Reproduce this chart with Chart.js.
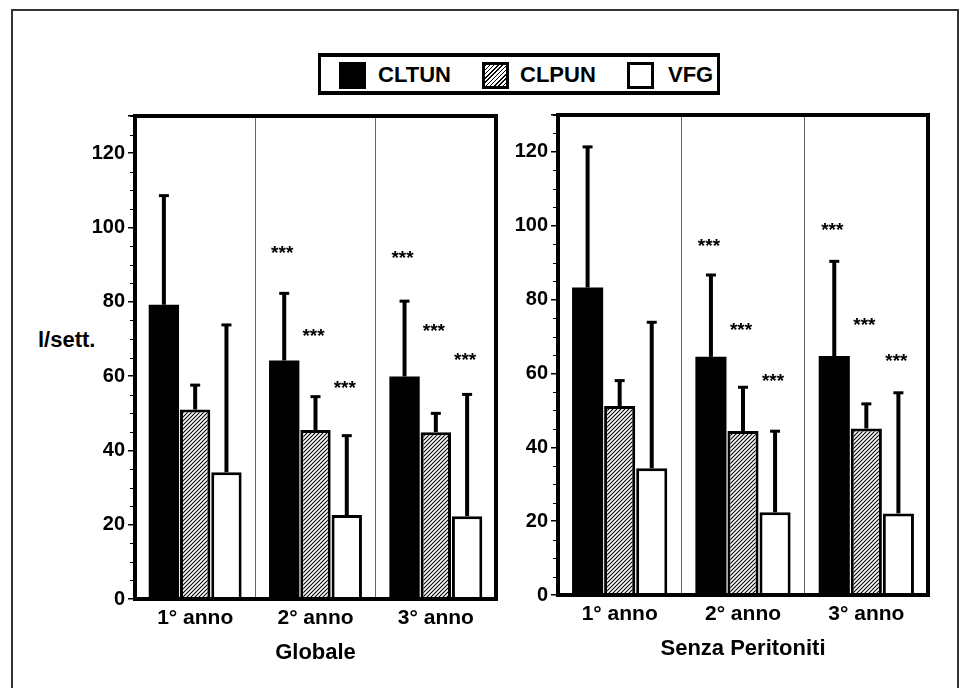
<!DOCTYPE html>
<html>
<head>
<meta charset="utf-8">
<script src="https://cdn.jsdelivr.net/npm/chart.js@4.4.1/dist/chart.umd.min.js"></script>
<style>
  body { margin: 0; width: 959px; height: 688px; position: relative; overflow: hidden; background: #fff;
         font-family: "Liberation Sans", Arial, sans-serif; font-weight: bold; color: #000; }
  #frame { position: absolute; left: 11px; top: 9px; width: 944px; height: 700px; border: 2px solid #333; }
  #legend { position: absolute; left: 318px; top: 53px; width: 396px; height: 34px; border: 3px solid #000; border-width: 4px 3px; }
  .sw { position: absolute; top: 5px; width: 27px; height: 27px; box-sizing: border-box; border: 3px solid #000; }
  .lt { position: absolute; top: 5px; font-size: 22px; line-height: 26px; }
  .box { position: absolute; }
  #ylab { position: absolute; left: 38px; top: 327px; font-size: 22px; line-height: 26px; }
</style>
</head>
<body>
<div id="frame"></div>
<div id="legend">
  <div class="sw" style="left:18px;background:#000"></div><div class="lt" style="left:57px">CLTUN</div>
  <div class="sw" style="left:161px;background:repeating-linear-gradient(135deg,#000 0 1px,#fff 1px 3px)"></div><div class="lt" style="left:199px">CLPUN</div>
  <div class="sw" style="left:306px;background:#fff"></div><div class="lt" style="left:347px">VFG</div>
</div>
<div id="ylab">l/sett.</div>
<div class="box" style="left:0;top:100px"><canvas id="c1" width="510" height="588"></canvas></div>
<div class="box" style="left:510px;top:100px"><canvas id="c2" width="449" height="588"></canvas></div>

<script>
// dati (l/settimana)
const categories = ["1° anno", "2° anno", "3° anno"];
const seriesNames = ["CLTUN", "CLPUN", "VFG"];

// Globale
const globCLTUN = [79.2, 64.2, 59.9];
const globCLTUNtop = [108.7, 82.4, 80.3];
const globCLPUN = [51.0, 45.5, 44.9];
const globCLPUNtop = [57.7, 54.6, 50.1];
const globVFG = [34.1, 22.6, 22.3];
const globVFGtop = [73.9, 44.1, 55.2];
const globStarsCLTUN = [null, 93.3, 92.0];
const globStarsCLPUN = [null, 71.0, 72.2];
const globStarsVFG = [null, 56.8, 64.5];

// Senza Peritoniti
const spCLTUN = [83.3, 64.5, 64.7];
const spCLTUNtop = [121.5, 86.8, 90.5];
const spCLPUN = [51.2, 44.4, 45.1];
const spCLPUNtop = [58.2, 56.4, 51.9];
const spVFG = [34.3, 22.4, 22.1];
const spVFGtop = [74.0, 44.5, 54.9];
const spStarsCLTUN = [null, 94.6, 99.0];
const spStarsCLPUN = [null, 71.9, 73.3];
const spStarsVFG = [null, 58.2, 63.6];

const yMax = 130;
const yMajorStep = 20;
const yMinorStep = 5;

const FONT = "'Liberation Sans', Arial, sans-serif";

function hatchPattern() {
  const c = document.createElement("canvas");
  const s = 4;
  c.width = s; c.height = s;
  const g = c.getContext("2d");
  g.fillStyle = "#fff";
  g.fillRect(0, 0, s, s);
  g.strokeStyle = "#000";
  g.lineWidth = 1.1;
  g.beginPath();
  g.moveTo(0, s); g.lineTo(s, 0);
  g.moveTo(-1, 1); g.lineTo(1, -1);
  g.moveTo(s - 1, s + 1); g.lineTo(s + 1, s - 1);
  g.stroke();
  return g.createPattern(c, "repeat");
}

// barre d'errore + asterischi
const extras = {
  id: "extras",
  afterDatasetsDraw(chart) {
    const ctx = chart.ctx;
    const y = chart.scales.y;
    chart.data.datasets.forEach((ds, i) => {
      const meta = chart.getDatasetMeta(i);
      meta.data.forEach((bar, j) => {
        const top = ds.errTop[j];
        const yt = y.getPixelForValue(top);
        ctx.save();
        ctx.strokeStyle = "#000";
        ctx.lineWidth = 4;
        ctx.beginPath();
        ctx.moveTo(bar.x, bar.y);
        ctx.lineTo(bar.x, yt);
        ctx.stroke();
        ctx.lineWidth = 3;
        ctx.beginPath();
        ctx.moveTo(bar.x - 5, yt + 0.5);
        ctx.lineTo(bar.x + 5, yt + 0.5);
        ctx.stroke();
        const st = ds.stars[j];
        if (st != null) {
          ctx.font = "bold 19px " + FONT;
          ctx.fillStyle = "#000";
          ctx.textAlign = "center";
          ctx.textBaseline = "alphabetic";
          const m = ctx.measureText("***");
          const h = m.actualBoundingBoxAscent - m.actualBoundingBoxDescent;
          ctx.fillText("***", bar.x - 2, y.getPixelForValue(st) + m.actualBoundingBoxAscent - h / 2 + 3);
        }
        ctx.restore();
      });
    });
  },
  afterDraw(chart) {
    const ctx = chart.ctx;
    const a = chart.chartArea;
    const y = chart.scales.y;
    ctx.save();
    // tacche minori
    ctx.strokeStyle = "#000";
    ctx.lineWidth = 1.2;
    ctx.beginPath();
    for (let v = 0; v <= yMax; v += yMinorStep) {
      if (v % yMajorStep === 0) continue;
      const p = Math.round(y.getPixelForValue(v)) + 0.5;
      ctx.moveTo(a.left - 5, p);
      ctx.lineTo(a.left, p);
    }
    ctx.stroke();
    // cornice
    ctx.lineWidth = 4;
    ctx.strokeRect(a.left, a.top, a.right - a.left, a.bottom - a.top);
    ctx.restore();
  }
};

function makeChart(id, title, vals, tops, stars, dims) {
  const hatch = hatchPattern();
  const ctx = document.getElementById(id).getContext("2d");
  return new Chart(ctx, {
    type: "bar",
    data: {
      labels: categories,
      datasets: [
        { label: seriesNames[0], data: vals[0], errTop: tops[0], stars: stars[0],
          backgroundColor: "#000", borderColor: "#000", borderWidth: 0 },
        { label: seriesNames[1], data: vals[1], errTop: tops[1], stars: stars[1],
          backgroundColor: hatch, borderColor: "#000", borderWidth: 3 },
        { label: seriesNames[2], data: vals[2], errTop: tops[2], stars: stars[2],
          backgroundColor: "#fff", borderColor: "#000", borderWidth: 3 }
      ]
    },
    options: {
      responsive: false,
      animation: false,
      categoryPercentage: 0.78,
      barPercentage: 0.97,
      layout: { padding: { left: 0, top: dims.top, right: dims.right, bottom: 0 } },
      plugins: { legend: { display: false }, tooltip: { enabled: false } },
      scales: {
        x: {
          afterFit: s => { s.height = dims.xh; },
          grid: { offset: true, drawOnChartArea: true, drawTicks: false, color: "#666", lineWidth: 1 },
          border: { display: false },
          ticks: { color: "#000", padding: 7, font: { family: FONT, size: 21, weight: "bold" } },
          title: { display: true, text: title, color: "#000", padding: { top: 0, bottom: dims.tb },
                   font: { family: FONT, size: 22, weight: "bold" } }
        },
        y: {
          min: 0, max: yMax,
          afterFit: s => { s.width = dims.yw; },
          grid: { drawOnChartArea: false, drawTicks: true, tickLength: 7, color: "#000", lineWidth: 1.5 },
          border: { display: false },
          ticks: { stepSize: yMajorStep, color: "#000", padding: 3,
                   callback: v => (v % yMajorStep === 0 ? v : ""),
                   font: { family: FONT, size: 20, weight: "bold" } }
        }
      }
    },
    plugins: [extras]
  });
}

makeChart("c1", "Globale",
  [globCLTUN, globCLPUN, globVFG],
  [globCLTUNtop, globCLPUNtop, globVFGtop],
  [globStarsCLTUN, globStarsCLPUN, globStarsVFG],
  { top: 16, right: 14, xh: 89, yw: 135, tb: 22 });

makeChart("c2", "Senza Peritoniti",
  [spCLTUN, spCLPUN, spVFG],
  [spCLTUNtop, spCLPUNtop, spVFGtop],
  [spStarsCLTUN, spStarsCLPUN, spStarsVFG],
  { top: 14, right: 31, xh: 93, yw: 48, tb: 26 });
</script>
</body>
</html>
